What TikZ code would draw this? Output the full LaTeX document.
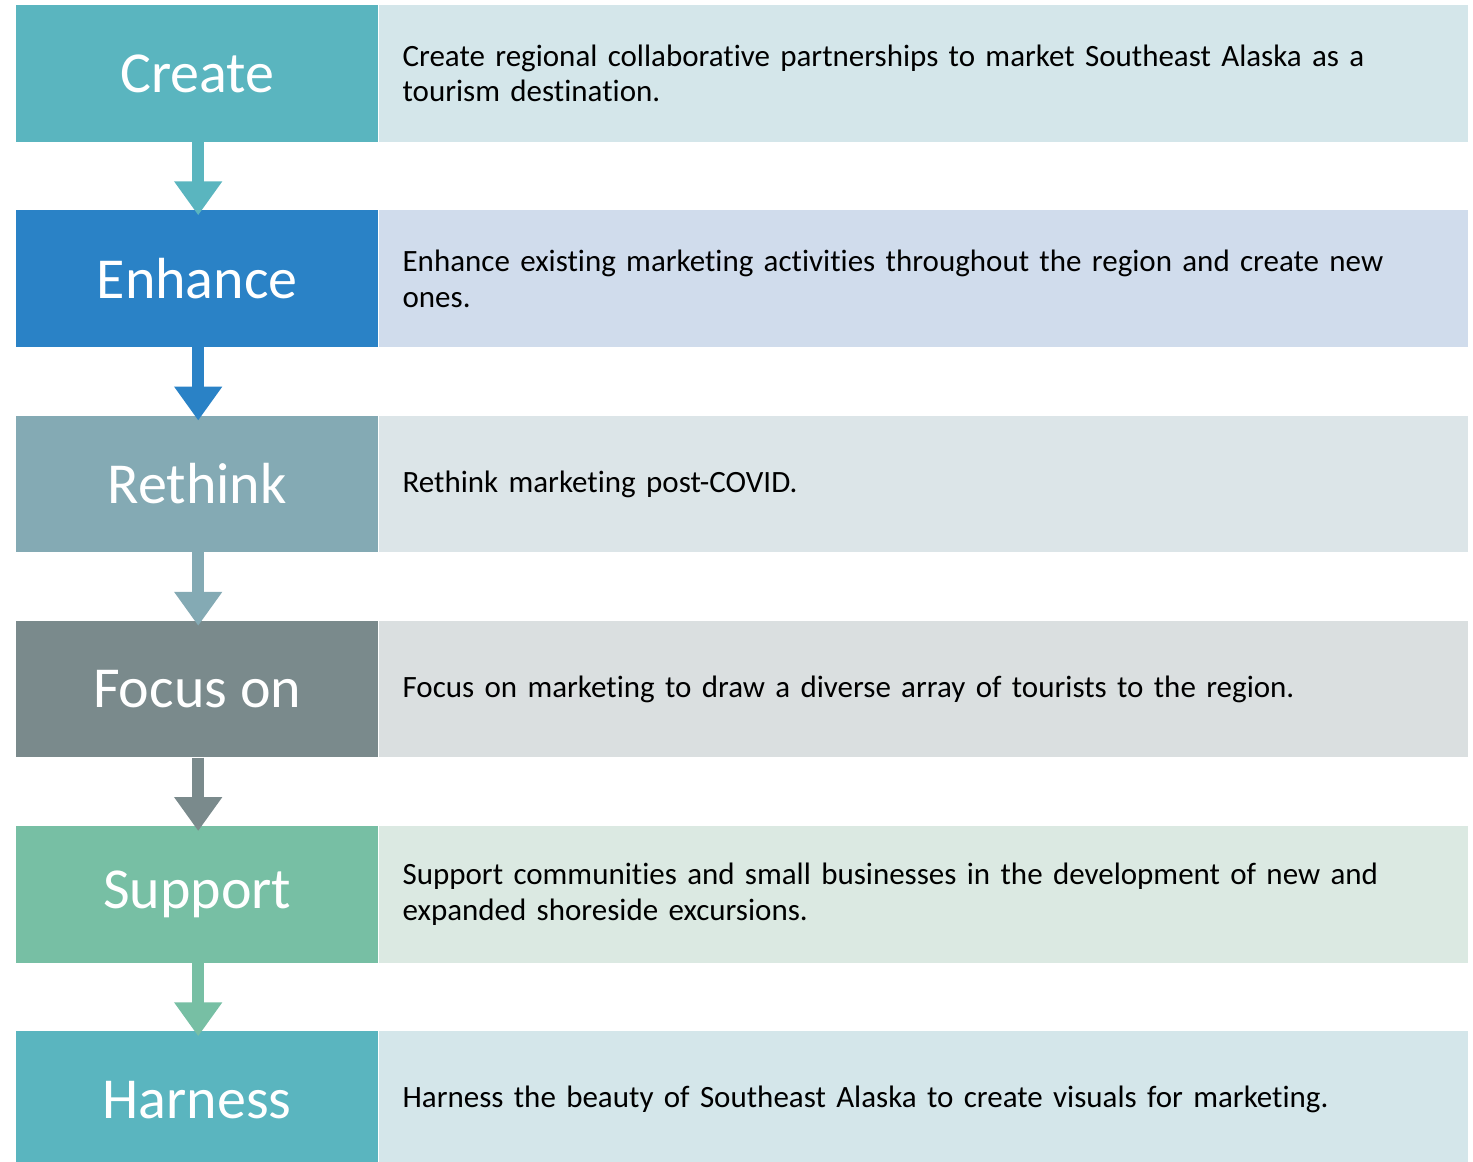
\documentclass[tikz,border=0pt]{standalone}
\usepackage{fontspec}
\setmainfont{Carlito}[Ligatures=NoCommon]
\usetikzlibrary{arrows.meta,calc}
\definecolor{dA}{HTML}{5AB5BF}\definecolor{lA}{HTML}{D4E6EA}
\definecolor{dB}{HTML}{2A82C6}\definecolor{lB}{HTML}{D0DCEC}
\definecolor{dC}{HTML}{84AAB4}\definecolor{lC}{HTML}{DCE5E8}
\definecolor{dD}{HTML}{7A8A8C}\definecolor{lD}{HTML}{DADFE0}
\definecolor{dE}{HTML}{77BFA4}\definecolor{lE}{HTML}{DBE9E2}
\tikzset{
  lbox/.style={anchor=north west, minimum width=362pt, minimum height=136.5pt, inner sep=0pt, text=white, font=\fontsize{58}{64}\selectfont},
  rbox/.style={anchor=north west, minimum height=136.5pt, inner xsep=24pt, inner ysep=0pt, text width=1041pt, align=left, text=black, font=\fontsize{31}{35.5}\selectfont},
  flowarrow/.style={line width=12pt, -{Triangle[width=46pt,length=34pt]}, shorten >=-5pt}
}
\begin{document}
\begin{tikzpicture}
\useasboundingbox (0,0) rectangle (1473pt,-1162pt);
\clip (0,0) rectangle (1473pt,-1162pt);
\node[lbox, fill=dA] (l1) at (16pt,-5pt) {Create};
\node[rbox, fill=lA] (r1) at (l1.north east) {Create regional collaborative partnerships to market Southeast Alaska as a\\tourism destination.};
\node[lbox, fill=dB] (l2) at (16pt,-210.25pt) {Enhance};
\node[rbox, fill=lB] (r2) at (l2.north east) {Enhance existing marketing activities throughout the region and create new\\ones.};
\node[lbox, fill=dC] (l3) at (16pt,-415.5pt) {Rethink};
\node[rbox, fill=lC] (r3) at (l3.north east) {Rethink marketing post-COVID.};
\node[lbox, fill=dD] (l4) at (16pt,-620.75pt) {Focus on};
\node[rbox, fill=lD] (r4) at (l4.north east) {Focus on marketing to draw a diverse array of tourists to the region.};
\node[lbox, fill=dE] (l5) at (16pt,-826pt) {Support};
\node[rbox, fill=lE] (r5) at (l5.north east) {Support communities and small businesses in the development of new and\\expanded shoreside excursions.};
\node[lbox, fill=dA] (l6) at (16pt,-1031.25pt) {Harness};
\node[rbox, fill=lA] (r6) at (l6.north east) {Harness the beauty of Southeast Alaska to create visuals for marketing.};
\draw[flowarrow, dA] ([xshift=1pt]l1.south) -- ([xshift=1pt]l2.north);
\draw[flowarrow, dB] ([xshift=1pt]l2.south) -- ([xshift=1pt]l3.north);
\draw[flowarrow, dC] ([xshift=1pt]l3.south) -- ([xshift=1pt]l4.north);
\draw[flowarrow, dD] ([xshift=1pt]l4.south) -- ([xshift=1pt]l5.north);
\draw[flowarrow, dE] ([xshift=1pt]l5.south) -- ([xshift=1pt]l6.north);
\end{tikzpicture}
\end{document}
